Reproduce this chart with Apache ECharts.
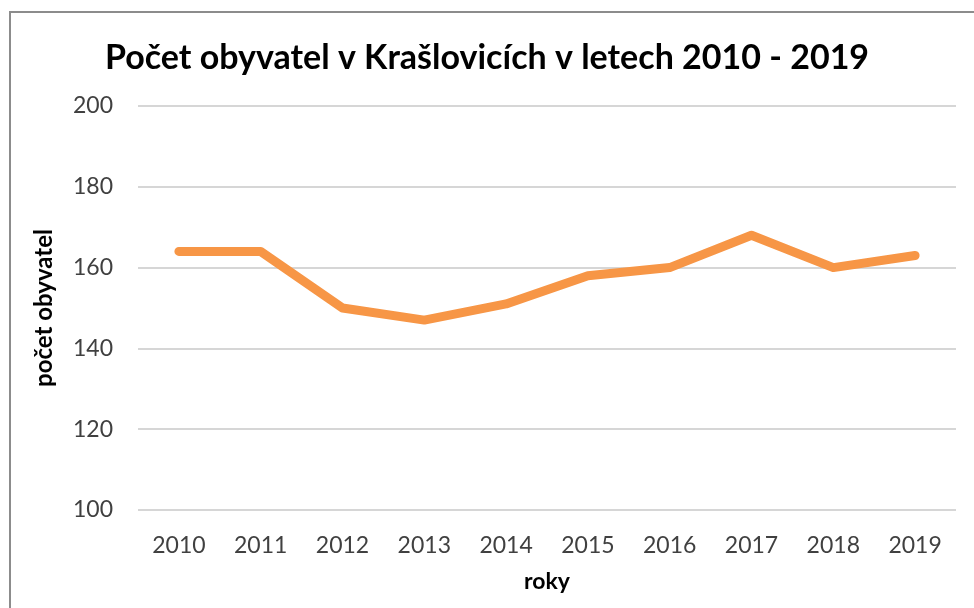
<!DOCTYPE html>
<html>
<head>
<meta charset="utf-8">
<script src="https://cdn.jsdelivr.net/npm/echarts@6/dist/echarts.min.js"></script>
<style>
  html, body { margin: 0; padding: 0; background: #fff; overflow: hidden; }
  #frame { position: absolute; left: 9px; top: 11px; width: 1000px; height: 700px; border: 2px solid #8c8c8c; box-sizing: border-box; }
  #main { position: absolute; left: 0; top: 0; width: 974px; height: 608px; }
</style>
</head>
<body>
<div id="frame"></div>
<div id="main"></div>
<script>
// data
var roky = ['2010', '2011', '2012', '2013', '2014', '2015', '2016', '2017', '2018', '2019'];
var obyvatel = [164, 164, 150, 147, 151, 158, 160, 168, 160, 163];

var font = 'Lato, "Open Sans", sans-serif';
var myChart = echarts.init(document.getElementById('main'));

var option = {
    animation: false,
    title: {
        text: 'Počet obyvatel v Krašlovicích v letech 2010 - 2019',
        left: 'center',
        top: 36,
        textStyle: { fontFamily: font, fontSize: 34, fontWeight: 'bold', color: '#000' }
    },
    grid: { left: 138, right: 18, top: 106, bottom: 98 },
    xAxis: {
        type: 'category',
        data: roky,
        name: 'roky',
        nameLocation: 'middle',
        nameGap: 60,
        nameTextStyle: { fontFamily: font, fontSize: 23, fontWeight: 'bold', color: '#000' },
        axisLine: { show: false },
        axisTick: { show: false },
        axisLabel: { fontFamily: font, fontSize: 23, color: '#404040', margin: 24 }
    },
    yAxis: {
        type: 'value',
        min: 100,
        max: 200,
        interval: 20,
        name: 'počet obyvatel',
        nameLocation: 'middle',
        nameGap: 82,
        nameTextStyle: { fontFamily: font, fontSize: 24, fontWeight: 'bold', color: '#000' },
        axisLine: { show: false },
        axisTick: { show: false },
        axisLabel: { fontFamily: font, fontSize: 23, color: '#404040', margin: 25 },
        splitLine: { lineStyle: { color: '#c8c8c8', width: 1.5 } }
    },
    series: [{
        type: 'line',
        data: obyvatel,
        symbol: 'none',
        lineStyle: { color: '#f79646', width: 9, cap: 'round', join: 'round' }
    }]
};

myChart.setOption(option);
</script>
</body>
</html>
